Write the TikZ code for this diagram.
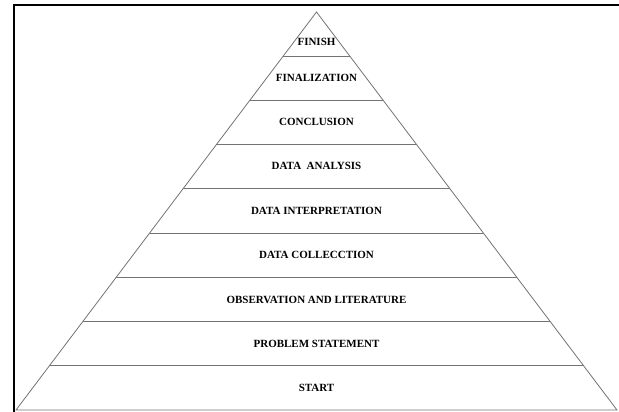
\documentclass[tikz,border=0pt]{standalone}
\usepackage{fontspec}
\setmainfont{Liberation Serif}
\usetikzlibrary{calc}

\begin{document}
\begin{tikzpicture}[x=1pt,y=-1pt,line join=miter,
    side line/.style={draw=black!55,line width=0.8pt},
    step label/.style={font=\bfseries\fontsize{11}{13}\selectfont,inner sep=0pt}]
    \useasboundingbox (0,0) rectangle (619,412);

    % frame, open to the right and bottom
    \coordinate (frame bl) at (14,412);
    \coordinate (frame tl) at (14,5);
    \coordinate (frame tr) at (619,5);
    \draw[line width=2.6pt] (frame bl) -- (frame tl) -- (frame tr);

    % pyramid outline
    \coordinate (apex) at (316.5,12);
    \coordinate (bl) at (16,410);
    \coordinate (br) at (617,410);
    \draw[side line] (bl) -- (apex) -- (br) -- cycle;

    % nine equal bands
    \foreach \i in {1,...,8} {
        \coordinate (l\i) at ($(apex)!\i/9!(bl)$);
        \coordinate (r\i) at ($(apex)!\i/9!(br)$);
        \draw[side line] (l\i) -- (r\i);
    }

    \node[step label] (finish)  at (316.5,41.5)  {FINISH};
    \node[step label] (final)   at (316.5,77.5)  {FINALIZATION};
    \node[step label] (concl)   at (316.5,121.5) {CONCLUSION};
    \node[step label] (analys)  at (316.5,166)   {DATA\ \ ANALYSIS};
    \node[step label] (interp)  at (316.5,210.5) {DATA INTERPRETATION};
    \node[step label] (collect) at (316.5,255)   {DATA COLLECCTION};
    \node[step label] (observe) at (316.5,299.5) {OBSERVATION AND LITERATURE};
    \node[step label] (problem) at (316.5,344)   {PROBLEM STATEMENT};
    \node[step label] (start)   at (316.5,388)   {START};
\end{tikzpicture}
\end{document}
